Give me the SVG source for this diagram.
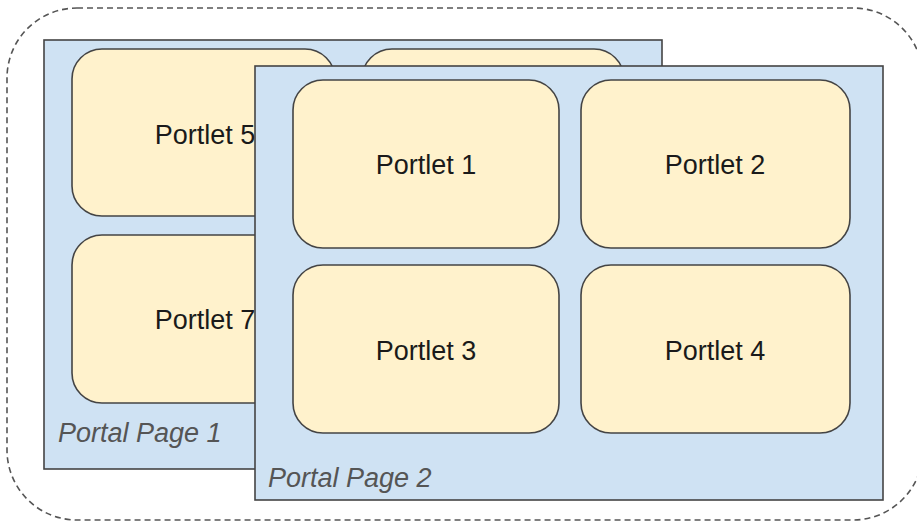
<svg xmlns="http://www.w3.org/2000/svg" width="917" height="522" viewBox="0 0 917 522">
<style>
.outer{fill:none;stroke:#555;stroke-width:1.6;stroke-dasharray:6 4}
.page{fill:#cfe2f3;stroke:#444;stroke-width:1.6}
.portlet{fill:#fff2cc;stroke:#444;stroke-width:1.6}
.lbl{font-family:"Liberation Sans",Arial,sans-serif;font-size:27px;fill:#1a1a1a;text-anchor:middle}
.plbl{font-family:"Liberation Sans",Arial,sans-serif;font-size:27px;font-style:italic;fill:#555}
</style>
<rect width="917" height="522" fill="#fff"/>
<rect class="outer" x="7" y="8" width="916" height="512" rx="70" ry="70"/>
<g id="page1">
<rect class="page" x="44" y="40" width="618" height="429"/>
<g id="portlet5"><rect class="portlet" x="72" y="49" width="263" height="167" rx="30"/><text class="lbl" x="205" y="144">Portlet 5</text></g>
<g id="portlet6"><rect class="portlet" x="362" y="49" width="262" height="167" rx="30"/></g>
<g id="portlet7"><rect class="portlet" x="72" y="235" width="263" height="168" rx="30"/><text class="lbl" x="205" y="329">Portlet 7</text></g>
<text class="plbl" x="58" y="442">Portal Page 1</text>
</g>
<g id="page2">
<rect class="page" x="255" y="66" width="628" height="434"/>
<g id="portlet1"><rect class="portlet" x="293" y="80" width="266" height="168" rx="30"/><text class="lbl" x="426" y="174">Portlet 1</text></g>
<g id="portlet2"><rect class="portlet" x="581" y="80" width="269" height="168" rx="30"/><text class="lbl" x="715" y="174">Portlet 2</text></g>
<g id="portlet3"><rect class="portlet" x="293" y="265" width="266" height="168" rx="30"/><text class="lbl" x="426" y="360">Portlet 3</text></g>
<g id="portlet4"><rect class="portlet" x="581" y="265" width="269" height="168" rx="30"/><text class="lbl" x="715" y="360">Portlet 4</text></g>
<text class="plbl" x="268" y="487">Portal Page 2</text>
</g>
<g id="connectors"/>
</svg>
